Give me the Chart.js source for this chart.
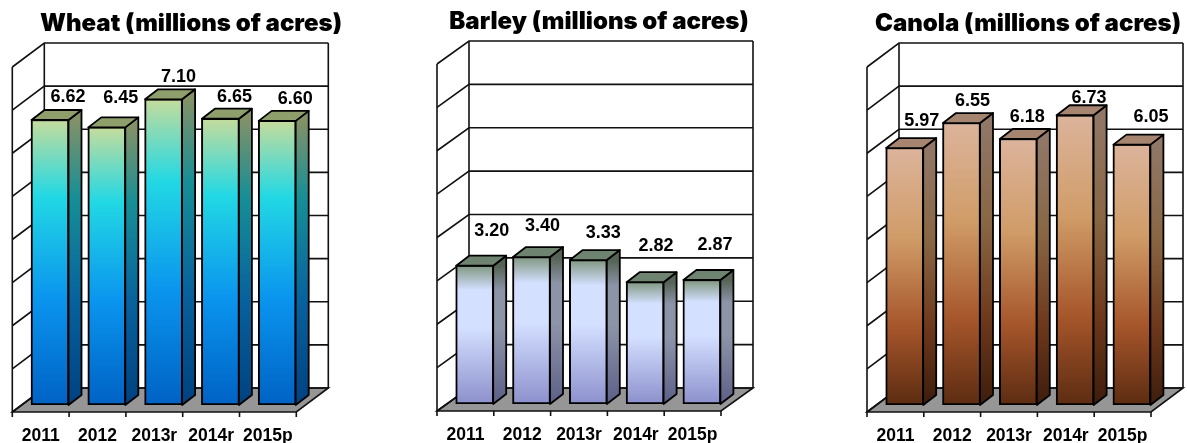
<!DOCTYPE html>
<html>
<head>
<meta charset="utf-8">
<title>Acres</title>
<script src="https://cdn.jsdelivr.net/npm/chart.js@4"></script>
<style>
html, body { margin: 0; background: #fff; overflow: hidden; width: 1187px; height: 443px; }
canvas { position: absolute; top: 0; }
</style>
</head>
<body>
<canvas id="wheat"></canvas>
<canvas id="barley"></canvas>
<canvas id="canola"></canvas>
<script>
const years = ['2011', '2012', '2013r', '2014r', '2015p'];
const wheatAcres = [6.62, 6.45, 7.10, 6.65, 6.60];
const barleyAcres = [3.20, 3.40, 3.33, 2.82, 2.87];
const canolaAcres = [5.97, 6.55, 6.18, 6.73, 6.05];

// where the value labels sit, relative to the bar's top centre
const wheatShift = [[18, -22], [14, -29], [15, -22], [14, -21], [18, -21]];
const barleyShift = [[17, -34], [11, -30], [15, -27], [11, -36], [13, -34]];
const canolaShift = [[17, -27], [11, -22], [9, -21], [14, -17], [19, -27]];

const BAR_DX = 13, BAR_DY = 10;   // depth of a bar
const FRONT_DX = 9.3;             // floor front edge, left of the bar plane
const FRONT_DY = 7;               // and below it
const BACK_DX = 22.7;             // back wall, right of the bar plane
const TITLE_SIZE = 24;

function shade(hex, f) {
    const n = parseInt(hex.slice(1), 16);
    const c = [n >> 16, (n >> 8) & 255, n & 255].map(v => Math.round(v * f));
    return `rgb(${c[0]},${c[1]},${c[2]})`;
}

function barGradient(ctx, top, bottom, stops, f) {
    const g = ctx.createLinearGradient(0, top, 0, bottom);
    stops.forEach(s => g.addColorStop(s[0], f ? shade(s[1], f) : s[1]));
    return g;
}

const box3d = {
    id: 'box3d',
    beforeDatasetsDraw(chart, args, o) {
        const { ctx, chartArea, scales } = chart;
        const y = scales.y;
        const w = scales.x.width / years.length;
        const fx0 = chartArea.left - FRONT_DX, fx1 = chartArea.right - FRONT_DX;
        const bx0 = chartArea.left + BACK_DX, bx1 = chartArea.right + BACK_DX;
        const base = chartArea.bottom;
        const floorBack = base - o.backDy;
        const floorFront = base + FRONT_DY;
        const drop = floorFront - floorBack;

        ctx.save();
        ctx.strokeStyle = '#111';
        ctx.lineWidth = 1.6;

        // floor
        ctx.fillStyle = '#969696';
        ctx.beginPath();
        ctx.moveTo(fx0, floorFront);
        ctx.lineTo(fx1, floorFront);
        ctx.lineTo(bx1, floorBack);
        ctx.lineTo(bx0, floorBack);
        ctx.closePath();
        ctx.fill();
        ctx.stroke();

        // grid on back and side walls
        y.ticks.forEach(t => {
            const py = y.getPixelForValue(t.value) - o.backDy;
            ctx.beginPath();
            ctx.moveTo(fx0, py + drop);
            ctx.lineTo(bx0, py);
            ctx.lineTo(bx1, py);
            ctx.stroke();
        });
        const wallTop = y.getPixelForValue(y.max) - o.backDy;
        ctx.beginPath();
        ctx.moveTo(fx0, wallTop + drop);
        ctx.lineTo(fx0, floorFront);
        ctx.moveTo(bx0, wallTop);
        ctx.lineTo(bx0, floorBack);
        ctx.moveTo(bx1, wallTop);
        ctx.lineTo(bx1, floorBack);
        ctx.stroke();

        // tick marks under the floor
        for (let i = 0; i <= years.length; i++) {
            const px = fx0 + i * w;
            ctx.beginPath();
            ctx.moveTo(px, floorFront);
            ctx.lineTo(px, floorFront + 5);
            ctx.stroke();
        }
        ctx.restore();
    },
    afterDatasetsDraw(chart, args, o) {
        const { ctx, chartArea } = chart;
        const base = chartArea.bottom;
        const values = chart.data.datasets[0].data;
        const bars = chart.getDatasetMeta(0).data;
        ctx.save();
        ctx.strokeStyle = '#000';
        ctx.lineWidth = 1.8;
        ctx.lineJoin = 'round';
        bars.forEach((bar, i) => {
            const right = bar.x + bar.width / 2 - 0.5;
            const left = bar.x - bar.width / 2 + 0.5;
            const top = bar.y + 0.5;

            ctx.fillStyle = barGradient(ctx, top, base, o.stops, 0.66);
            ctx.beginPath();
            ctx.moveTo(right, top);
            ctx.lineTo(right + BAR_DX, top - BAR_DY);
            ctx.lineTo(right + BAR_DX, base - BAR_DY);
            ctx.lineTo(right, base);
            ctx.closePath();
            ctx.fill();
            ctx.stroke();

            ctx.fillStyle = o.topColor;
            ctx.beginPath();
            ctx.moveTo(left, top);
            ctx.lineTo(left + BAR_DX, top - BAR_DY);
            ctx.lineTo(right + BAR_DX, top - BAR_DY);
            ctx.lineTo(right, top);
            ctx.closePath();
            ctx.fill();
            ctx.stroke();

            ctx.fillStyle = '#000';
            ctx.font = 'bold 18px "Liberation Sans", Arial, sans-serif';
            ctx.textAlign = 'center';
            ctx.textBaseline = 'middle';
            ctx.fillText(values[i].toFixed(2), bar.x + o.shift[i][0], bar.y + o.shift[i][1]);
        });
        ctx.restore();
    }
};

function makeChart(id, title, values, shift, stops, topColor, geo) {
    const canvas = document.getElementById(id);
    canvas.style.left = geo.canvasLeft + 'px';
    canvas.width = geo.canvasWidth;
    canvas.height = 443;
    return new Chart(canvas, {
        type: 'bar',
        data: {
            labels: years,
            datasets: [{
                data: values,
                barThickness: 38,
                borderWidth: 2,
                borderColor: '#000',
                borderSkipped: false,
                backgroundColor: function (c) {
                    const area = c.chart.chartArea;
                    if (!area) return '#888';
                    const top = c.chart.scales.y.getPixelForValue(c.raw);
                    return barGradient(c.chart.ctx, top, area.bottom, stops);
                }
            }]
        },
        options: {
            responsive: false,
            animation: false,
            layout: { padding: 0 },
            plugins: {
                legend: { display: false },
                tooltip: { enabled: false },
                title: {
                    display: true,
                    text: title,
                    color: '#000',
                    font: { family: 'Inter, "DejaVu Sans"', size: TITLE_SIZE, weight: 900, lineHeight: 1.2 },
                    padding: { top: geo.titleTop, bottom: geo.areaTop - geo.titleTop - TITLE_SIZE * 1.2 }
                },
                box3d: { shift: shift, stops: stops, topColor: topColor, backDy: geo.backDy }
            },
            scales: {
                x: {
                    grid: { display: false },
                    border: { display: false },
                    afterFit(s) { s.height = 443 - geo.base; },
                    ticks: {
                        color: '#000',
                        font: { family: '"Liberation Sans", Arial, sans-serif', size: 17.5, weight: 'bold' },
                        padding: 13,
                        labelOffset: -FRONT_DX,
                        maxRotation: 0,
                        autoSkip: false
                    }
                },
                y: {
                    min: 0,
                    max: 8,
                    grid: { display: false },
                    border: { display: false },
                    afterFit(s) { s.width = geo.areaLeft - geo.canvasLeft; },
                    ticks: { display: false, stepSize: 1 }
                },
                pad: {
                    position: 'right',
                    min: 0,
                    max: 8,
                    grid: { display: false },
                    border: { display: false },
                    afterFit(s) { s.width = geo.canvasLeft + geo.canvasWidth - geo.areaLeft - 284; },
                    ticks: { display: false }
                }
            }
        },
        plugins: [box3d]
    });
}

makeChart('wheat', 'Wheat (millions of acres)', wheatAcres, wheatShift,
    [[0, '#c6dc9c'], [0.27, '#22d8e4'], [0.63, '#0a94ee'], [1, '#0062c4']], '#8f9f6c',
    { canvasLeft: 0, canvasWidth: 382, areaLeft: 21.6, areaTop: 60, base: 405, backDy: 17, titleTop: 9 });

makeChart('barley', 'Barley (millions of acres)', barleyAcres, barleyShift,
    [[0, '#7f967f'], [0.18, '#d4e0ff'], [0.45, '#d4e0ff'], [1, '#8c90cc']], '#6f8470',
    { canvasLeft: 417, canvasWidth: 364, areaLeft: 446.3, areaTop: 57, base: 404, backDy: 16, titleTop: 7 });

makeChart('canola', 'Canola (millions of acres)', canolaAcres, canolaShift,
    [[0, '#dcb49c'], [0.35, '#d09c68'], [0.7, '#a5552a'], [1, '#5c2c12']], '#a5856f',
    { canvasLeft: 850, canvasWidth: 356, areaLeft: 876.3, areaTop: 60, base: 405, backDy: 17, titleTop: 9 });
</script>
</body>
</html>
